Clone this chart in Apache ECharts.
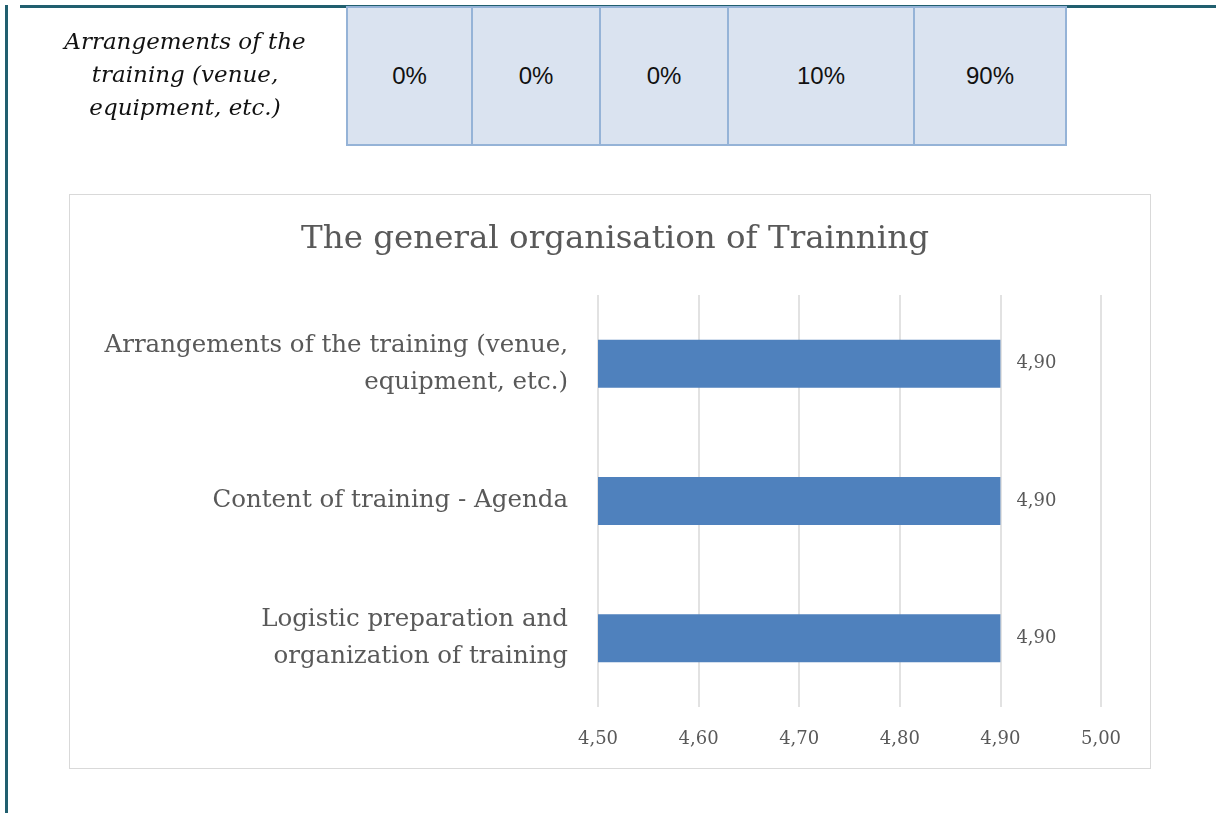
<!DOCTYPE html>
<html>
<head>
<meta charset="utf-8">
<script src="https://cdn.jsdelivr.net/npm/echarts@6/dist/echarts.min.js"></script>
<style>
  html, body { margin: 0; padding: 0; background: #fff; }
  #page { position: relative; width: 1216px; height: 813px; overflow: hidden; }
  #chart { position: absolute; left: 0; top: 0; width: 1216px; height: 813px; }
  .rule { position: absolute; background: #215f6f; }
  #box { position: absolute; left: 69px; top: 194px; width: 1080px; height: 573px; border: 1.5px solid #d9d9d9; }
  #rowLabel { position: absolute; left: 35px; top: 25px; width: 300px; text-align: center;
    font: italic 23px/33px "DejaVu Serif", serif; color: #111; }
  table { position: absolute; left: 346px; top: 6px; border-collapse: collapse; }
  td { background: #dae3f0; border: 2px solid #95b3d7; height: 136px; padding: 0; text-align: center;
    font: 24px "Liberation Sans", sans-serif; color: #111; }
</style>
</head>
<body>
<div id="page">
  <div id="box"></div>
  <div id="chart"></div>
  <div class="rule" style="left:20px;top:5px;width:1196px;height:3px"></div>
  <div class="rule" style="left:5px;top:5px;width:2.5px;height:808px"></div>
  <div id="rowLabel"></div>
  <table><tr id="tableRow"></tr></table>
</div>
<script>
// table above the chart
const tableLabel = 'Arrangements of the\ntraining (venue,\nequipment, etc.)'
const tableValues = ['0%', '0%', '0%', '10%', '90%']
const tableWidths = [125, 128, 128, 186, 152]

// chart data
const chartTitle = 'The general organisation of Trainning'
const categories = [
  'Logistic preparation and\norganization of training',
  'Content of training - Agenda',
  'Arrangements of the training (venue,\nequipment, etc.)'
]
const scores = [4.90, 4.90, 4.90]

document.getElementById('rowLabel').innerHTML = tableLabel.split('\n').join('<br>')
document.getElementById('tableRow').innerHTML = tableValues
  .map((v, i) => `<td style="width:${tableWidths[i] - 2}px">${v}</td>`).join('')

const fmt = v => v.toFixed(2).replace('.', ',')
const grey = '#595959'
const serif = '"DejaVu Serif", serif'

const chart = echarts.init(document.getElementById('chart'))
chart.setOption({
  animation: false,
  title: {
    text: chartTitle,
    left: 610,
    textAlign: 'center',
    top: 218,
    textStyle: { fontFamily: serif, fontSize: 32.5, fontWeight: 'normal', color: grey }
  },
  grid: { left: 598, right: 115, top: 295, bottom: 106 },
  xAxis: {
    type: 'value',
    min: 4.5,
    max: 5.0,
    interval: 0.1,
    axisLine: { show: false },
    axisTick: { show: false },
    splitLine: { lineStyle: { color: '#d9d9d9', width: 1.5 } },
    axisLabel: { formatter: fmt, margin: 23, fontFamily: serif, fontSize: 18, color: grey }
  },
  yAxis: {
    type: 'category',
    data: categories,
    axisLine: { show: false },
    axisTick: { show: false },
    axisLabel: { margin: 30, fontFamily: serif, fontSize: 24.5, lineHeight: 37, color: grey, align: 'right' }
  },
  series: [{
    type: 'bar',
    data: scores,
    barWidth: '35%',
    itemStyle: { color: '#4f81bd' },
    label: {
      show: true,
      position: 'right',
      distance: 16,
      formatter: p => fmt(p.value),
      fontFamily: serif,
      fontSize: 18,
      color: grey
    }
  }]
})
</script>
</body>
</html>
